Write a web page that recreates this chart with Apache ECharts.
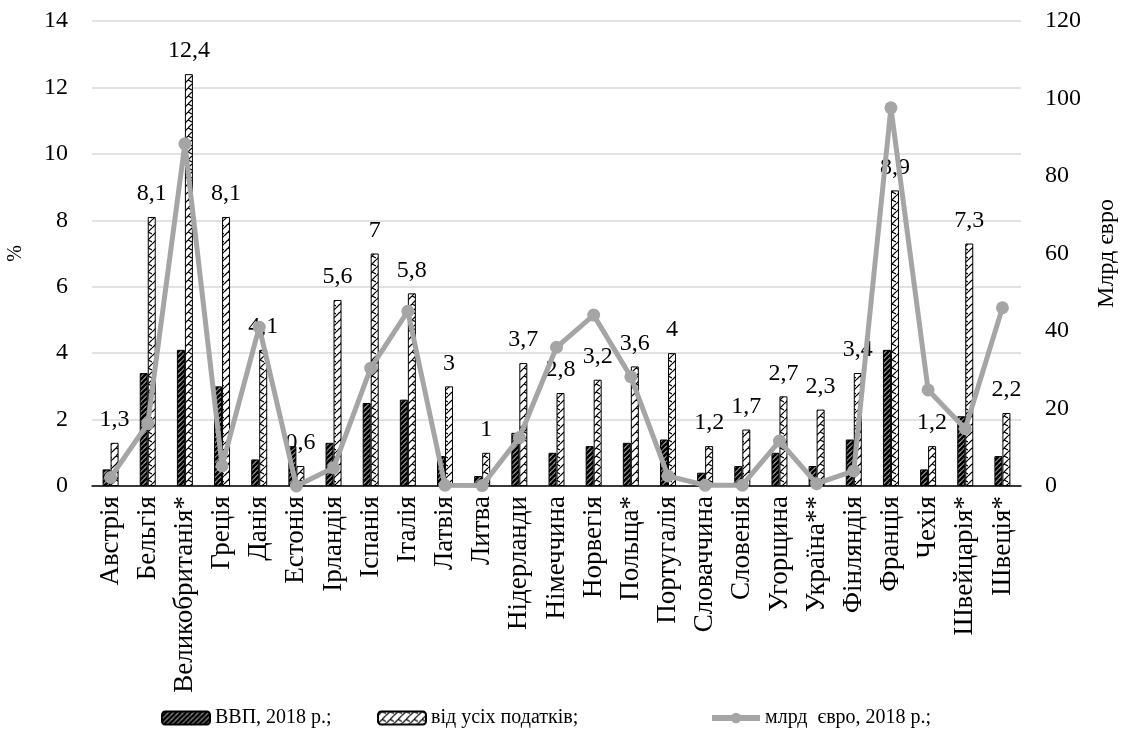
<!DOCTYPE html>
<html>
<head>
<meta charset="utf-8">
<script src="https://cdn.jsdelivr.net/npm/echarts@6/dist/echarts.min.js"></script>
<style>
  html, body { margin: 0; padding: 0; background: #ffffff; }
  #chart { width: 1127px; height: 753px; }
</style>
</head>
<body>
<div id="chart"></div>
<script>
// Countries along the category axis
const categories = [
  'Австрія', 'Бельгія', 'Великобританія*', 'Греція', 'Данія', 'Естонія',
  'Ірландія', 'Іспанія', 'Італія', 'Латвія', 'Литва', 'Нідерланди',
  'Німеччина', 'Норвегія', 'Польща*', 'Португалія', 'Словаччина', 'Словенія',
  'Угорщина', 'Україна**', 'Фінляндія', 'Франція', 'Чехія', 'Швейцарія*', 'Швеція*'
];

// Share of GDP, 2018, %
const gdpShare = [
  0.5, 3.4, 4.1, 3.0, 0.8, 1.2, 1.3, 2.5, 2.6, 0.9, 0.3, 1.6, 1.0,
  1.2, 1.3, 1.4, 0.4, 0.6, 1.0, 0.6, 1.4, 4.1, 0.5, 2.1, 0.9
];

// Share of all taxes, %
const taxShare = [
  1.3, 8.1, 12.4, 8.1, 4.1, 0.6, 5.6, 7, 5.8, 3, 1, 3.7, 2.8,
  3.2, 3.6, 4, 1.2, 1.7, 2.7, 2.3, 3.4, 8.9, 1.2, 7.3, 2.2
];

// Billion euro, 2018
const billionEur = [
  2.2, 16.1, 88.3, 5.2, 41.0, 0, 4.7, 30.4, 45.1, 0.2, 0.1, 12.5, 35.8,
  44.1, 28.2, 2.6, 0.2, 0.2, 11.6, 0.6, 3.9, 97.6, 24.8, 14.8, 46.0
];

const seriesNames = ['ВВП, 2018 р.;', 'від усіх податків;', 'млрд  євро, 2018 р.;'];

const FONT = '"Liberation Serif", "Times New Roman", serif';
const LINE_GREY = '#a5a5a5';

// Tile fills for the two bar series
function makePattern(draw, w, h) {
  const c = document.createElement('canvas');
  c.width = w; c.height = h;
  const ctx = c.getContext('2d');
  ctx.fillStyle = '#ffffff';
  ctx.fillRect(0, 0, w, h);
  draw(ctx, w, h);
  return { image: c, repeat: 'repeat' };
}

// dense dark upward diagonal
const gdpFill = makePattern(function (ctx, w, h) {
  ctx.strokeStyle = '#000000';
  ctx.lineWidth = 3;
  ctx.beginPath();
  ctx.moveTo(-2, h + 2); ctx.lineTo(w + 2, -2);
  ctx.moveTo(-2, 2); ctx.lineTo(2, -2);
  ctx.moveTo(w - 2, h + 2); ctx.lineTo(w + 2, h - 2);
  ctx.stroke();
}, 5, 5);

// light zigzag
const taxFill = makePattern(function (ctx, w, h) {
  ctx.strokeStyle = '#000000';
  ctx.lineWidth = 1.2;
  ctx.beginPath();
  ctx.moveTo(0, h * 0.5); ctx.lineTo(w * 0.5, 0);
  ctx.moveTo(w * 0.5, h); ctx.lineTo(w, h * 0.5);
  ctx.moveTo(w * 0.5, 0); ctx.lineTo(w, h * 0.25);
  ctx.stroke();
}, 8, 8);

const chart = echarts.init(document.getElementById('chart'), null, { renderer: 'canvas' });

const fmtComma = function (v) { return String(v).replace('.', ','); };

// one legend block per entry so each sits at its own spot in the bottom row
const legendLefts = [156, 372, 704];
const legends = seriesNames.map(function (name, i) {
  const entry = { name: name };
  if (i === 2) {
    entry.itemStyle = { color: LINE_GREY };
    entry.lineStyle = { color: LINE_GREY, width: 6 };
  }
  return {
    bottom: 20,
    left: legendLefts[i],
    itemWidth: 48,
    itemHeight: 13,
    textStyle: { fontFamily: FONT, fontSize: 20, color: '#000' },
    data: [entry]
  };
});

chart.setOption({
  animation: false,
  textStyle: { fontFamily: FONT, color: '#000' },
  grid: { left: 92, right: 106, top: 21, bottom: 267, outerBoundsMode: 'none', containLabel: false },
  legend: legends,
  xAxis: {
    type: 'category',
    data: categories,
    axisLine: { lineStyle: { color: '#000', width: 1.5 } },
    axisTick: { show: false },
    axisLabel: {
      interval: 0,
      rotate: 90,
      margin: 10,
      fontFamily: FONT,
      fontSize: 27,
      color: '#000'
    }
  },
  yAxis: [
    {
      type: 'value',
      min: 0,
      max: 14,
      interval: 2,
      name: '%',
      nameLocation: 'middle',
      nameRotate: 90,
      nameGap: 66,
      nameTextStyle: { fontFamily: FONT, fontSize: 20, color: '#000' },
      axisLine: { show: false },
      axisTick: { show: false },
      axisLabel: { margin: 24, fontFamily: FONT, fontSize: 24, color: '#000' },
      splitLine: { lineStyle: { color: '#d9d9d9', width: 1.5 } }
    },
    {
      type: 'value',
      min: 0,
      max: 120,
      interval: 20,
      name: 'Млрд євро',
      nameLocation: 'middle',
      nameRotate: 90,
      nameGap: 74,
      nameTextStyle: { fontFamily: FONT, fontSize: 24, color: '#000' },
      axisLine: { show: false },
      axisTick: { show: false },
      axisLabel: { margin: 24, fontFamily: FONT, fontSize: 24, color: '#000' },
      splitLine: { show: false }
    }
  ],
  series: [
    {
      name: seriesNames[0],
      type: 'bar',
      data: gdpShare,
      barWidth: 8,
      barGap: '0%',
      itemStyle: { color: gdpFill, borderColor: '#000', borderWidth: 1 }
    },
    {
      name: seriesNames[1],
      type: 'bar',
      data: taxShare,
      barWidth: 8,
      barGap: '0%',
      itemStyle: { color: taxFill, borderColor: '#000', borderWidth: 1 },
      label: {
        show: true,
        position: 'top',
        distance: 11,
        fontFamily: FONT,
        fontSize: 24,
        color: '#000',
        formatter: function (p) { return fmtComma(p.value); }
      }
    },
    {
      name: seriesNames[2],
      type: 'line',
      yAxisIndex: 1,
      data: billionEur,
      symbol: 'circle',
      symbolSize: 13,
      z: 5,
      lineStyle: { color: LINE_GREY, width: 5 },
      itemStyle: { color: LINE_GREY }
    }
  ]
});
</script>
</body>
</html>
